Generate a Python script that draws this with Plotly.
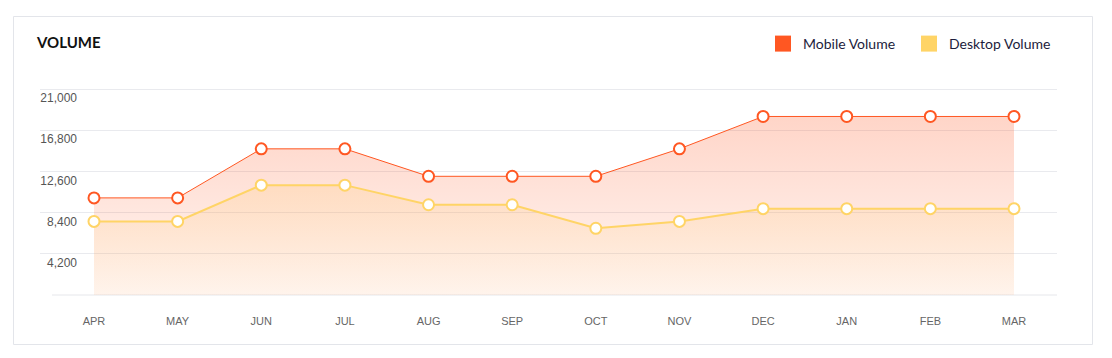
import plotly.graph_objects as go

months = ["APR", "MAY", "JUN", "JUL", "AUG", "SEP", "OCT", "NOV", "DEC", "JAN", "FEB", "MAR"]
mobile_volume = [9900, 9900, 14900, 14900, 12100, 12100, 12100, 14900, 18200, 18200, 18200, 18200]
desktop_volume = [7500, 7500, 11200, 11200, 9200, 9200, 6800, 7500, 8800, 8800, 8800, 8800]
y_ticks = [4200, 8400, 12600, 16800, 21000]
y_tick_text = ["4,200", "8,400", "12,600", "16,800", "21,000"]

MOBILE = "#FF5722"
DESKTOP = "#FFD466"

OFF = 8  # page body margin
W, H = 1112 - OFF, 358 - OFF
# plot area in reference-window pixels
PL, PR, PT, PB = 40, 1057, 87, 295
L, R, T, B = PL - OFF, W - (PR - OFF), PT - OFF, H - (PB - OFF)
pw = PR - PL
ph = PB - PT
Y_TOP = 21000 * (PB - PT) / (PB - 89)


def px(x):
    return (x - PL) / pw


def py(y):
    return (PB - y) / ph


fig = go.Figure()

fig.add_trace(go.Scatter(
    x=months, y=mobile_volume, name="Mobile Volume", mode="lines+markers",
    line=dict(color=MOBILE, width=1),
    marker=dict(size=11, color="white", line=dict(color=MOBILE, width=2)),
    fill="tozeroy",
    fillgradient=dict(type="vertical",
                      colorscale=[[0, "rgba(255,87,34,0.05)"], [1, "rgba(255,87,34,0.25)"]],
                      start=0, stop=max(mobile_volume)),
    showlegend=False,
))
fig.add_trace(go.Scatter(
    x=months, y=desktop_volume, name="Desktop Volume", mode="lines+markers",
    line=dict(color=DESKTOP, width=2),
    marker=dict(size=11, color="white", line=dict(color=DESKTOP, width=2)),
    fill="tozeroy",
    fillgradient=dict(type="vertical",
                      colorscale=[[0, "rgba(255,200,110,0.06)"], [1, "rgba(255,200,110,0.22)"]],
                      start=0, stop=max(desktop_volume)),
    showlegend=False,
))
# legend entries
for nm, c in [("Mobile Volume", MOBILE), ("Desktop Volume", DESKTOP)]:
    fig.add_trace(go.Scatter(x=[None], y=[None], mode="markers", name=nm,
                             marker=dict(symbol="square", size=18, color=c)))

step = (1014 - 94) / 11.0
x0 = -(94 - PL) / step
x1 = 11 + (PR - 1014) / step

fig.update_layout(
    width=W, height=H,
    margin=dict(l=L, r=R, t=T, b=B, pad=0),
    paper_bgcolor="white", plot_bgcolor="white",
    font=dict(family="Liberation Sans, Arial, sans-serif", color="#555"),
    xaxis=dict(type="category", range=[x0, x1], showgrid=False, zeroline=False,
               showline=False, ticks="", tickfont=dict(size=11, color="#666"),
               ticklabelstandoff=18, fixedrange=True),
    yaxis=dict(range=[0, Y_TOP], tickvals=y_ticks, ticktext=y_tick_text,
               showgrid=True, gridcolor="#E9EAEE", gridwidth=1, zeroline=False,
               showline=False, ticks="", tickfont=dict(size=12, color="#555"),
               ticklabelstandoff=-38, ticklabelshift=9, fixedrange=True),
    legend=dict(orientation="h", xanchor="left", yanchor="middle",
                x=px(763), y=py(44), entrywidth=101,
                font=dict(family="Lato, sans-serif", size=14, color="#1c1c3c"),
                bgcolor="rgba(0,0,0,0)", itemclick=False),
    shapes=[
        dict(type="rect", xref="paper", yref="paper", x0=px(13.5), x1=px(1092.5),
             y0=py(344.5), y1=py(16.5), line=dict(color="#E3E5EA", width=1), layer="below"),
        dict(type="line", xref="paper", yref="paper", x0=px(52), x1=1, y0=0, y1=0,
             line=dict(color="#E6E7EB", width=1), layer="below"),
    ],
    annotations=[
        dict(text="<b>VOLUME</b>", xref="paper", yref="paper", x=px(34), y=py(42),
             xanchor="left", yanchor="middle", showarrow=False,
             font=dict(family="Lato, sans-serif", size=15, color="#111", weight=900)),
    ],
)

fig.write_html("out.html")
